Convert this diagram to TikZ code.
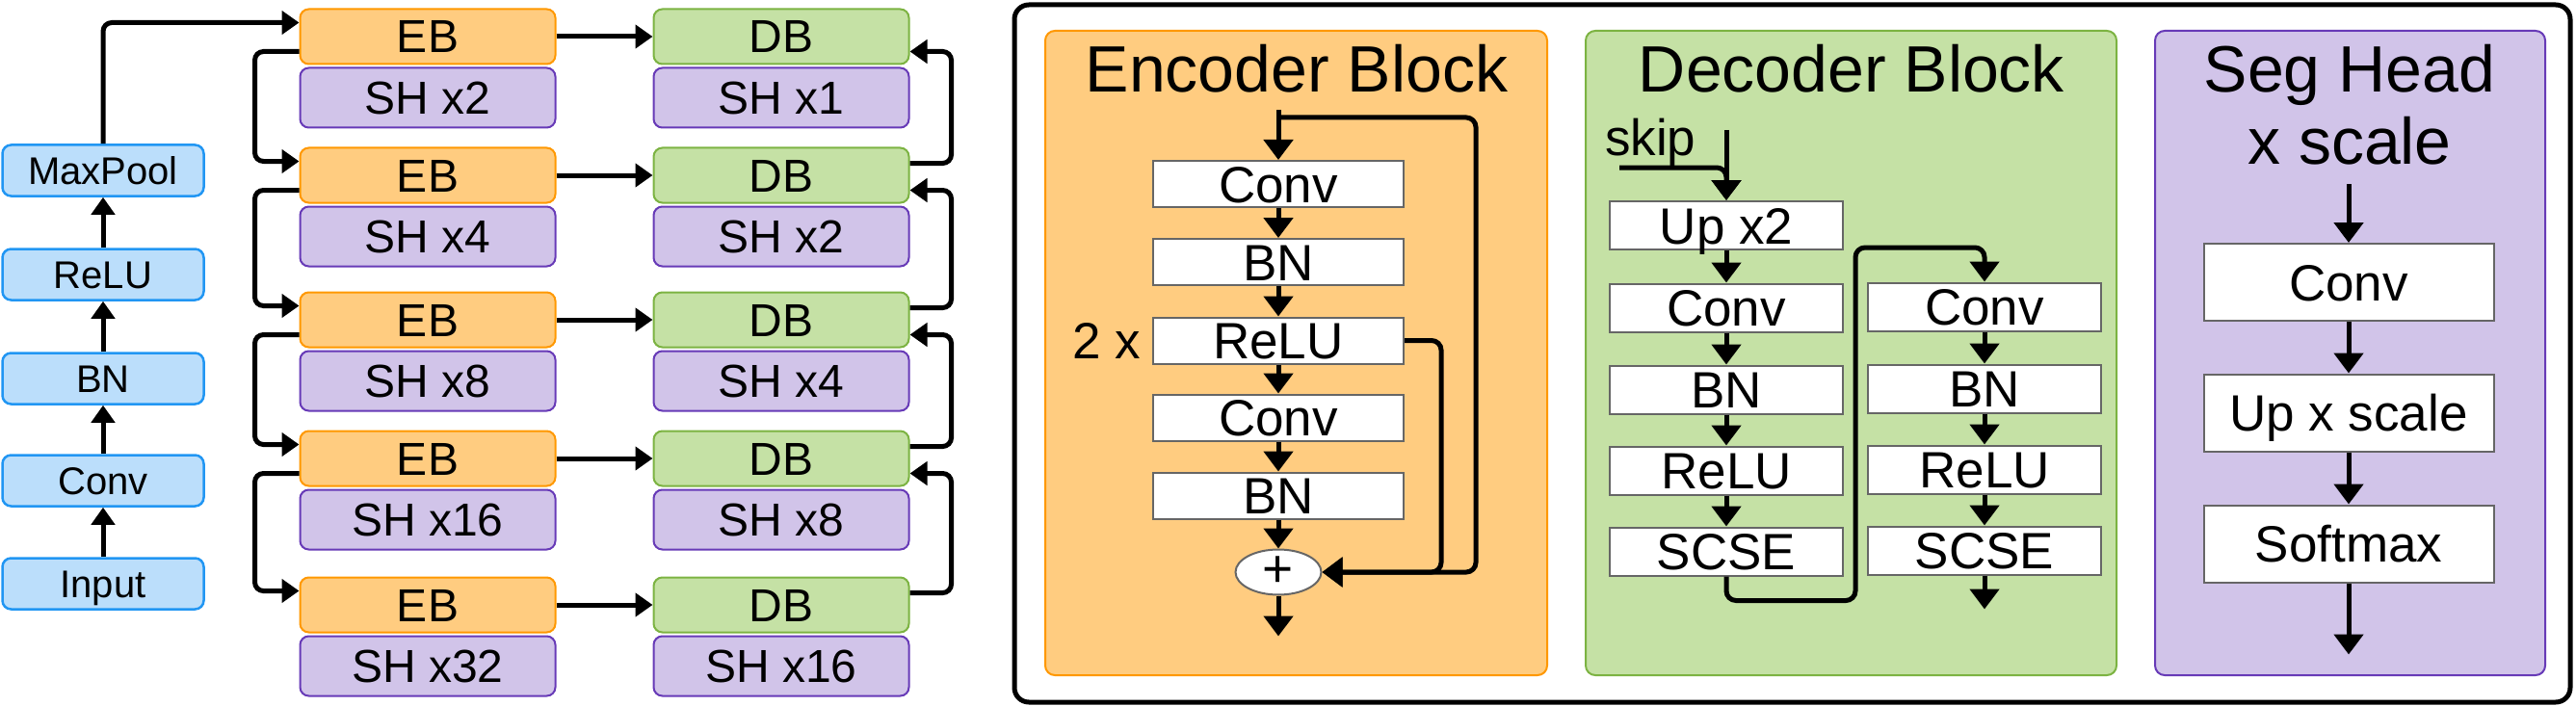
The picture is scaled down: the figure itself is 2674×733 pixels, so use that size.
\documentclass[tikz,border=0pt]{standalone}
\usepackage{fontspec}
\setmainfont{Liberation Sans}
\usetikzlibrary{arrows.meta,calc,shapes.geometric}
\definecolor{bluef}{HTML}{BBDEFB}\definecolor{blued}{HTML}{2196F3}
\definecolor{orf}{HTML}{FFCC80}\definecolor{ord}{HTML}{FF9800}
\definecolor{grf}{HTML}{C5E1A5}\definecolor{grd}{HTML}{7CB342}
\definecolor{puf}{HTML}{D1C4E9}\definecolor{pud}{HTML}{673AB7}
\definecolor{boxd}{HTML}{666666}
\newcommand{\myfs}[1]{\fontsize{#1}{#1}\selectfont}
\begin{document}
\begin{tikzpicture}[x=1pt,y=-1pt,
  lbox/.style={draw=blued, fill=bluef, line width=2.5pt, rounded corners=9pt, minimum width=209pt, minimum height=53pt, inner sep=0pt, font=\myfs{40}, text height=29pt, text depth=0pt},
  ebox/.style={draw=ord, fill=orf, line width=2pt, rounded corners=9pt, minimum width=265pt, minimum height=57pt, inner sep=0pt, font=\myfs{48}, text height=34pt, text depth=0pt},
  dbox/.style={ebox, draw=grd, fill=grf},
  shbox/.style={ebox, draw=pud, fill=puf, minimum height=62pt},
  wbox/.style={draw=boxd, fill=white, line width=2pt, inner sep=0pt, font=\myfs{53}, text height=38pt, text depth=0pt},
  sarr/.style={line width=5pt, -{Triangle[width=24pt,length=18pt]}},
  barr/.style={line width=5pt, -{Triangle[width=30pt,length=21pt]}},
  panel/.style={line width=2pt, rounded corners=10pt},
  ttl/.style={font=\myfs{68}, anchor=base, inner sep=0pt}
]
\useasboundingbox (0,0) rectangle (2674,733);
% ---------- left: overall network ----------
\node[lbox] (inp) at (107,606) {Input};
\node[lbox] (lconv) at (107,499) {Conv};
\node[lbox] (lbn) at (107,393) {BN};
\node[lbox] (lrelu) at (107,285) {ReLU};
\node[lbox] (mp) at (107,177) {MaxPool};
\draw[sarr] (inp) -- (lconv);
\draw[sarr] (lconv) -- (lbn);
\draw[sarr] (lbn) -- (lrelu);
\draw[sarr] (lrelu) -- (mp);

\foreach \i/\y/\a/\b in {1/38/2/1, 2/182/4/2, 3/332/8/4, 4/476/16/8, 5/628/32/16}{
  \node[ebox] (eb\i) at (444,\y) {EB};
  \node[shbox, anchor=north] (she\i) at ($(eb\i.south)+(0,2)$) {SH x\a};
  \node[dbox] (db\i) at (811,\y) {DB};
  \node[shbox, anchor=north] (shd\i) at ($(db\i.south)+(0,2)$) {SH x\b};
  \draw[sarr] (eb\i) -- (db\i);
}
\draw[sarr, rounded corners=9pt] (mp.north) |- ($(eb1.north west)+(0,15)$);
\foreach \i/\j in {1/2,2/3,3/4,4/5}{
  \draw[sarr, rounded corners=9pt] ($(eb\i.south west)+(0,-14)$) -- ++(-46,0) |- ($(eb\j.north west)+(0,15)$);
  \draw[sarr, rounded corners=9pt] ($(db\j.north east)+(0,17)$) -- ++(43,0) |- ($(db\i.south east)+(0,-14)$);
}
% ---------- right: frame ----------
\draw[line width=5pt, rounded corners=15pt] (1053,5) rectangle (2668,729);
% ---------- encoder block ----------
\draw[panel, draw=ord, fill=orf] (1085,32) rectangle (1606,701);
\node[ttl] (enct) at (1346,96) {Encoder Block};
\begin{scope}[every node/.append style={minimum width=260pt, minimum height=48pt}]
\node[wbox] (e1) at (1327,191) {Conv};
\node[wbox] (e2) at (1327,272) {BN};
\node[wbox] (e3) at (1327,353.5) {ReLU};
\node[wbox] (e4) at (1327,433.5) {Conv};
\node[wbox] (e5) at (1327,514.5) {BN};
\end{scope}
\node[ellipse, draw=boxd, fill=white, line width=2pt, minimum width=89pt, minimum height=47pt, inner sep=0pt, font=\myfs{55}] (plus) at (1327,594) {+};
\node[font=\myfs{53}, anchor=east, inner sep=0pt, text height=38pt, text depth=0pt] (twox) at ($(e3.west)+(-12,0)$) {2 x};
\coordinate (ein) at ($(e1.north)+(0,-52)$);
\draw[barr] (ein) -- (e1.north);
\draw[barr, rounded corners=10pt] ($(ein)+(0,8)$) -- ++(205,0) |- (plus.east);
\draw[barr, rounded corners=10pt] (e3.east) -- ++(38,0) |- (plus.east);
\draw[barr] (e1) -- (e2);
\draw[barr] (e2) -- (e3);
\draw[barr] (e3) -- (e4);
\draw[barr] (e4) -- (e5);
\draw[barr] (e5) -- (plus);
\draw[barr] (plus.south) -- ++(0,42);
% ---------- decoder block ----------
\draw[panel, draw=grd, fill=grf] (1646,32) rectangle (2197,701);
\node[ttl] (dect) at (1922,96) {Decoder Block};
\node[font=\myfs{53}, anchor=base west, inner sep=0pt] (skip) at (1666,161) {skip};
\begin{scope}[every node/.append style={minimum width=242pt, minimum height=50pt}]
\node[wbox] (u) at (1792,234) {Up x2};
\node[wbox] (dc1) at (1792,319.5) {Conv};
\node[wbox] (db1x) at (1792,404.5) {BN};
\node[wbox] (dr1) at (1792,488.5) {ReLU};
\node[wbox] (ds1) at (1792,572.5) {SCSE};
\node[wbox] (dc2) at (2060,318.5) {Conv};
\node[wbox] (db2x) at (2060,403.5) {BN};
\node[wbox] (dr2) at (2060,487.5) {ReLU};
\node[wbox] (ds2) at (2060,571.5) {SCSE};
\end{scope}
\coordinate (din) at ($(u.north)+(0,-73)$);
\coordinate (sk) at (1681,174);
\draw[barr] (din) -- (u.north);
\draw[barr, rounded corners=10pt] (sk) -| (u.north);
\draw[barr] (u) -- (dc1);
\draw[barr] (dc1) -- (db1x);
\draw[barr] (db1x) -- (dr1);
\draw[barr] (dr1) -- (ds1);
\coordinate (dturn) at (1926,257);
\draw[barr, rounded corners=10pt] (ds1.south) -- ++(0,25) -| (dturn) -| (dc2.north);
\draw[barr] (dc2) -- (db2x);
\draw[barr] (db2x) -- (dr2);
\draw[barr] (dr2) -- (ds2);
\draw[barr] (ds2.south) -- ++(0,35);
% ---------- seg head ----------
\draw[panel, draw=pud, fill=puf] (2237,32) rectangle (2642,701);
\node[ttl] (segt1) at (2439,96) {Seg Head};
\node[ttl] (segt2) at (2439,171) {x scale};
\begin{scope}[every node/.append style={minimum width=301pt, minimum height=80pt, font=\myfs{54}}]
\node[wbox] (sc) at (2438,293) {Conv};
\node[wbox] (su) at (2438,428.5) {Up x scale};
\node[wbox] (ss) at (2438,564.5) {Softmax};
\end{scope}
\coordinate (sin) at ($(sc.north)+(0,-61)$);
\draw[barr] (sin) -- (sc.north);
\draw[barr] (sc) -- (su);
\draw[barr] (su) -- (ss);
\draw[barr] (ss.south) -- ++(0,74);
\end{tikzpicture}
\end{document}
